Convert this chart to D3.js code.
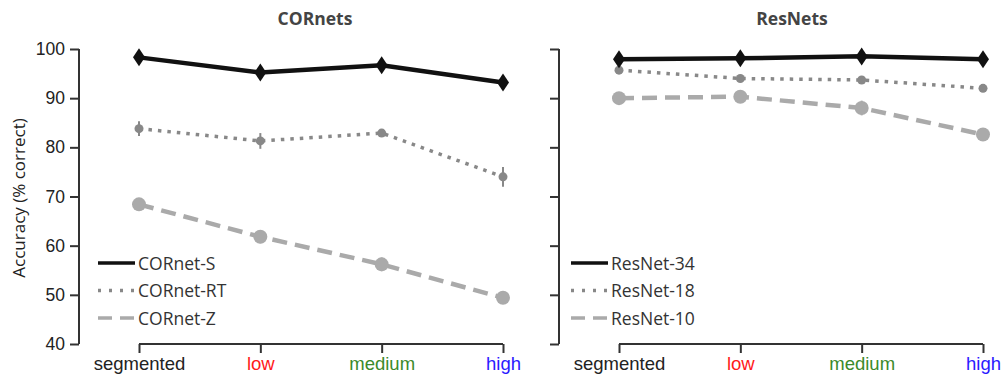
<!DOCTYPE html>
<html>
<head>
<meta charset="utf-8">
<script src="https://cdnjs.cloudflare.com/ajax/libs/d3/7.8.5/d3.min.js"></script>
<style>
  body { margin: 0; background: #fff; }
  svg { font-family: "Open Sans", sans-serif; }
</style>
</head>
<body>
<svg id="chart" width="1005" height="378"></svg>
<script>
// categories and tick labels
var conditions = ["segmented", "low", "medium", "high"];
var conditionColors = ["#222222", "#ff1a1a", "#3b8a2b", "#2a1aff"];
var yTicks = [40, 50, 60, 70, 80, 90, 100];

// CORnets
var cornetS = [98.3, 95.2, 96.7, 93.2];
var cornetSErr = [0.6, 0.6, 0.6, 0.6];
var cornetRT = [83.8, 81.3, 82.9, 74.0];
var cornetRTErr = [1.5, 1.6, 0.5, 2.0];
var cornetZ = [68.4, 61.8, 56.2, 49.4];
var cornetZErr = [0.8, 1.3, 1.4, 1.1];

// ResNets
var resnet34 = [97.9, 98.1, 98.5, 97.9];
var resnet34Err = [0.5, 0.5, 0.6, 0.6];
var resnet18 = [95.7, 94.0, 93.7, 92.0];
var resnet18Err = [0.3, 0.3, 0.4, 0.6];
var resnet10 = [90.0, 90.3, 88.0, 82.6];
var resnet10Err = [0.4, 0.4, 1.5, 1.3];

var svg = d3.select("#chart");

var y = d3.scaleLinear().domain([40, 100]).range([344, 49]);

var styles = {
  solid:  { color: "#111111", width: 4.5, dash: null, marker: "diamond" },
  dotted: { color: "#888888", width: 3.5, dash: "3.5,6", marker: "small" },
  dashed: { color: "#aaaaaa", width: 4.5, dash: "15,8", marker: "big" }
};

function drawPanel(opts) {
  var x = d3.scalePoint().domain(conditions).range([opts.x0, opts.x1]);
  var g = svg.append("g");

  // y axis (range frame)
  var yAxis = d3.axisLeft(y).tickValues(yTicks).tickSize(9).tickPadding(5)
    .tickFormat(opts.yLabels ? d3.format("d") : "");
  var ya = g.append("g")
    .attr("transform", "translate(" + opts.yAxisX + ",0)")
    .call(yAxis);
  ya.select(".domain").attr("d", "M0," + y(100) + "V" + y(40))
    .attr("stroke", "#333").attr("stroke-width", 2);
  ya.selectAll(".tick line").attr("stroke", "#333").attr("stroke-width", 2);
  ya.selectAll(".tick text").attr("fill", "#222").style("font-size", "17.5px");

  // x axis (range frame)
  var xAxis = d3.axisBottom(x).tickSize(9).tickPadding(4);
  var xa = g.append("g")
    .attr("transform", "translate(0,344)")
    .call(xAxis);
  xa.select(".domain").attr("d", "M" + opts.x0 + ",0H" + opts.x1)
    .attr("stroke", "#333").attr("stroke-width", 2);
  xa.selectAll(".tick line").attr("stroke", "#333").attr("stroke-width", 2);
  xa.selectAll(".tick text")
    .attr("fill", function(d, i) { return conditionColors[i]; })
    .style("font-size", "18.5px");

  // title
  g.append("text")
    .attr("x", opts.titleX).attr("y", 25)
    .attr("text-anchor", "middle")
    .attr("fill", "#444")
    .style("font-size", "17.5px").style("font-weight", "bold")
    .text(opts.title);

  var line = d3.line()
    .x(function(d, i) { return x(conditions[i]); })
    .y(function(d) { return y(d); });

  // draw back to front: dashed, dotted, solid
  opts.series.slice().reverse().forEach(function(s) {
    var st = styles[s.style];
    var sg = g.append("g");

    sg.selectAll(".err").data(s.values).enter().append("line")
      .attr("x1", function(d, i) { return x(conditions[i]); })
      .attr("x2", function(d, i) { return x(conditions[i]); })
      .attr("y1", function(d, i) { return y(d - s.err[i]); })
      .attr("y2", function(d, i) { return y(d + s.err[i]); })
      .attr("stroke", st.color).attr("stroke-width", 2);

    sg.append("path").datum(s.values)
      .attr("d", line)
      .attr("fill", "none")
      .attr("stroke", st.color)
      .attr("stroke-width", st.width)
      .attr("stroke-dasharray", st.dash);

    if (st.marker === "diamond") {
      sg.selectAll(".mk").data(s.values).enter().append("path")
        .attr("transform", function(d, i) { return "translate(" + x(conditions[i]) + "," + y(d) + ")"; })
        .attr("d", "M0,-9L6,0L0,9L-6,0Z")
        .attr("fill", st.color);
    } else {
      sg.selectAll(".mk").data(s.values).enter().append("circle")
        .attr("cx", function(d, i) { return x(conditions[i]); })
        .attr("cy", function(d) { return y(d); })
        .attr("r", st.marker === "big" ? 7 : 4.5)
        .attr("fill", st.color);
    }
  });

  // legend
  var lg = g.append("g");
  opts.series.forEach(function(s, i) {
    var st = styles[s.style];
    var ly = 263 + i * 27.5;
    lg.append("line")
      .attr("x1", opts.legendX).attr("x2", opts.legendX + 37)
      .attr("y1", ly).attr("y2", ly)
      .attr("stroke", st.color)
      .attr("stroke-width", 3.5)
      .attr("stroke-dasharray", s.style === "dotted" ? "3,8" : (s.style === "dashed" ? "14,8" : null));
    lg.append("text")
      .attr("x", opts.legendX + 40).attr("y", ly + 6.5)
      .attr("fill", "#333")
      .style("font-size", "17.5px")
      .text(s.name);
  });
}

drawPanel({
  x0: 139, x1: 503, yAxisX: 79, yLabels: true,
  title: "CORnets", titleX: 315, legendX: 98,
  series: [
    { name: "CORnet-S", values: cornetS, err: cornetSErr, style: "solid" },
    { name: "CORnet-RT", values: cornetRT, err: cornetRTErr, style: "dotted" },
    { name: "CORnet-Z", values: cornetZ, err: cornetZErr, style: "dashed" }
  ]
});

drawPanel({
  x0: 619, x1: 983, yAxisX: 559, yLabels: false,
  title: "ResNets", titleX: 792, legendX: 571,
  series: [
    { name: "ResNet-34", values: resnet34, err: resnet34Err, style: "solid" },
    { name: "ResNet-18", values: resnet18, err: resnet18Err, style: "dotted" },
    { name: "ResNet-10", values: resnet10, err: resnet10Err, style: "dashed" }
  ]
});

// y axis label
svg.append("text")
  .attr("transform", "translate(25,198) rotate(-90)")
  .attr("text-anchor", "middle")
  .attr("fill", "#222")
  .style("font-size", "17px")
  .text("Accuracy (% correct)");
</script>
</body>
</html>
